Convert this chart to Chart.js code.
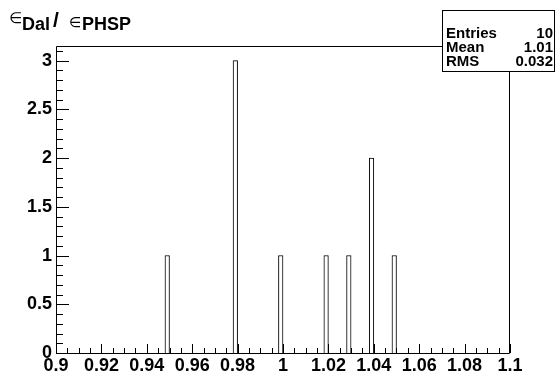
<!DOCTYPE html>
<html><head><meta charset="utf-8">
<script src="https://cdn.jsdelivr.net/npm/chart.js@4/dist/chart.umd.min.js"></script>
<style>html,body{margin:0;padding:0;background:#fff}#wrap{width:556px;height:377px}</style>
</head><body><div id="wrap"><canvas id="c" width="556" height="377"></canvas></div>
<script>
// Histogram binning (100 bins from 0.9 to 1.1)
const histMin = 0.9;
const histMax = 1.1;
const nBins = 100;
// Non-empty bins: lower edges and counts
const binLowEdges = [0.948, 0.978, 0.998, 1.018, 1.028, 1.038, 1.048];
const binCounts = [1, 3, 1, 1, 1, 2, 1];
// Axis ranges / ticks
const yMax = 3.15;
const xMajorStep = 0.02;
const yMajorStep = 0.5;
// Stats box
const statsLabels = ['Entries', 'Mean', 'RMS'];
const statsValues = ['10', '1.01', '0.032'];

const binW = (histMax - histMin) / nBins;
const table = [];
for (let i = 0; i < nBins; i++) {
  const lo = histMin + i * binW;
  let y = 0;
  binLowEdges.forEach((e, k) => { if (Math.abs(e - lo) < binW / 2) y = binCounts[k]; });
  table.push({ x: lo + binW / 2, y: y });
}

const FONT = '"Liberation Sans", Arial, Helvetica, sans-serif';

const rootPlugin = {
  id: 'rootStyle',
  afterDatasetsDraw(chart) {
    const { ctx, chartArea: a, scales: { x, y } } = chart;
    ctx.save();
    ctx.strokeStyle = '#000';
    ctx.lineWidth = 1;
    ctx.beginPath();
    const L = a.left + 0.5, R = a.right - 0.5, T = a.top + 0.5, B = a.bottom + 0.5;
    ctx.moveTo(L, T); ctx.lineTo(R, T); ctx.lineTo(R, B); ctx.lineTo(L, B); ctx.closePath();
    for (let i = 0; i <= Math.floor(yMax * 10 + 1e-6); i++) {
      const v = i / 10;
      const py = Math.round(y.getPixelForValue(v)) + 0.5;
      const len = (i % 5 === 0) ? 13 : 7;
      ctx.moveTo(a.left, py); ctx.lineTo(a.left + len, py);
    }
    const nx = Math.round((histMax - histMin) / 0.005);
    for (let i = 0; i <= nx; i++) {
      const v = histMin + i * 0.005;
      const px = Math.round(x.getPixelForValue(v)) + 0.5;
      const len = (i % 4 === 0) ? 9 : 5;
      ctx.moveTo(px, a.bottom); ctx.lineTo(px, a.bottom - len);
    }
    ctx.stroke();
    ctx.restore();
  },
  afterDraw(chart) {
    const ctx = chart.ctx;
    ctx.save();
    ctx.fillStyle = '#000';
    ctx.textAlign = 'left';
    ctx.textBaseline = 'alphabetic';
    ctx.font = '15px "DejaVu Sans", sans-serif';
    ctx.fillText('\u2208', 9, 23);
    ctx.font = 'bold 18px ' + FONT;
    ctx.fillText('Dal', 22, 30);
    ctx.font = 'bold 21px ' + FONT;
    ctx.fillText('/', 53, 27);
    ctx.font = '14px "DejaVu Sans", sans-serif';
    ctx.fillText('\u2208', 69, 27);
    ctx.font = 'bold 18px ' + FONT;
    ctx.fillText('PHSP', 82, 30);
    ctx.strokeStyle = '#000';
    ctx.lineWidth = 1;
    ctx.fillStyle = '#fff';
    ctx.fillRect(442, 10, 113, 61);
    ctx.strokeRect(442.5, 10.5, 112, 61);
    ctx.fillStyle = '#000';
    ctx.font = 'bold 15px ' + FONT;
    const rows = [38, 52, 66];
    statsLabels.forEach((lab, i) => {
      ctx.textAlign = 'left';
      ctx.fillText(lab, 446, rows[i]);
      ctx.textAlign = 'right';
      ctx.fillText(statsValues[i], 553, rows[i]);
    });
    ctx.restore();
  }
};

new Chart(document.getElementById('c').getContext('2d'), {
  type: 'bar',
  data: {
    datasets: [{
      data: table,
      backgroundColor: '#ffffff',
      borderColor: '#000000',
      borderWidth: 1,
      borderSkipped: 'start',
      barPercentage: 1,
      categoryPercentage: 1
    }]
  },
  options: {
    responsive: false,
    animation: false,
    events: [],
    layout: { padding: { top: 46, right: 46, left: 0, bottom: 0 } },
    plugins: { legend: { display: false }, tooltip: { enabled: false }, title: { display: false } },
    scales: {
      x: {
        type: 'linear',
        min: histMin,
        max: histMax,
        offset: false,
        grid: { display: false, drawTicks: false },
        border: { display: false },
        ticks: {
          stepSize: xMajorStep,
          autoSkip: false,
          maxRotation: 0,
          padding: 2,
          color: '#000',
          font: { family: FONT, size: 18, weight: 'bold' },
          callback: v => String(+(+v).toFixed(3))
        },
        afterFit: s => { s.height = 24; }
      },
      y: {
        type: 'linear',
        min: 0,
        max: yMax,
        grid: { display: false, drawTicks: false },
        border: { display: false },
        ticks: {
          stepSize: yMajorStep,
          includeBounds: false,
          padding: 4,
          color: '#000',
          font: { family: FONT, size: 18, weight: 'bold' },
          callback: v => { const r = Math.round(v * 2) / 2; return Math.abs(r - v) < 1e-6 ? String(r) : ''; }
        },
        afterFit: s => { s.width = 56; }
      }
    }
  },
  plugins: [rootPlugin]
});
</script>
</body></html>
